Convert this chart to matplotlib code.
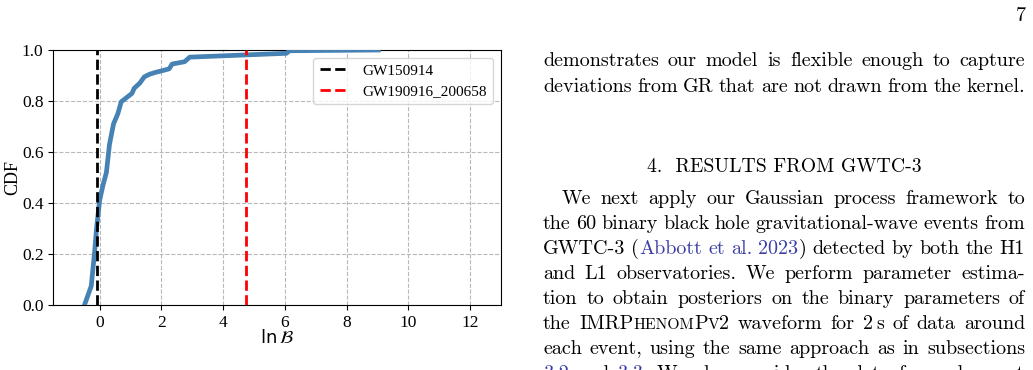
import matplotlib
matplotlib.use("Agg")
import matplotlib.pyplot as plt

plt.rcParams['font.family'] = 'Liberation Serif'
plt.rcParams['mathtext.fontset'] = 'dejavusans'

# CDF of ln B over the GWTC-3 events
lnb = [-0.49, -0.27, -0.16, -0.10, 0.0, 0.11, 0.22, 0.32, 0.45, 0.59, 0.70,
       1.05, 1.12, 1.30, 1.45, 1.62, 1.80, 2.0, 2.25, 2.35, 2.75, 2.92,
       6.05, 6.15, 9.03]
cdf = [0.0, 0.075, 0.21, 0.30, 0.41, 0.47, 0.52, 0.63, 0.71, 0.75, 0.797,
       0.83, 0.85, 0.87, 0.895, 0.905, 0.912, 0.918, 0.926, 0.945, 0.954,
       0.972, 0.987, 0.997, 1.0]
events = ["GW150914", "GW190916_200658"]
event_lnb = [-0.10, 4.74]
event_colors = ["black", "red"]

xticks = [0, 2, 4, 6, 8, 10, 12]
yticks = [0.0, 0.2, 0.4, 0.6, 0.8, 1.0]

W, H = 1033, 370
fig = plt.figure(figsize=(W / 100, H / 100), dpi=100)
ax = fig.add_axes([53.3 / W, 1 - 305 / H, (501 - 53.3) / W, (305 - 50) / H])

ax.plot(lnb, cdf, color='#4682b4', lw=3.4, zorder=3)
for name, xv, c in zip(events, event_lnb, event_colors):
    ax.axvline(xv, color=c, ls='--', lw=2, label=name, zorder=4)

ax.set_xlim(-1.5, 13)
ax.set_ylim(0, 1)
ax.set_xticks(xticks)
ax.set_yticks(yticks)
ax.set_xticklabels([str(t) for t in xticks])
ax.set_yticklabels([f"{t:.1f}" for t in yticks])
ax.tick_params(labelsize=12.5, labelfontfamily='Liberation Serif')
ax.grid(True, ls='--', color='#b8b8b8', lw=0.8)
ax.set_axisbelow(True)
ax.set_ylabel("CDF", fontsize=13)
ax.yaxis.set_label_coords(-0.072, 0.5)
ax.set_xlabel(r"$\ln\mathcal{B}$", fontsize=13, labelpad=-1)
ax.legend(loc='upper right', prop={'size': 11}, handlelength=1.8,
          borderpad=0.42, labelspacing=0.42, handletextpad=1.0)

# --- right hand column of the page ---
FS = 14.5
SC = 11.3
BLUE = '#3c3fa6'
L, R = 543, 1025
renderer = fig.canvas.get_renderer()


def seg_text(s, size=FS, color='black'):
    t = fig.text(0, 0, s, family='cmr10', fontsize=size, color=color, va='baseline')
    return t, t.get_window_extent(renderer).width


def line(words, base, left=L, right=R, justify=True):
    items = []
    for w in words:
        if isinstance(w, str):
            w = [(w, FS, 'black')]
        parts = [(None, p) if isinstance(p, (int, float)) else seg_text(*p) for p in w]
        items.append((parts, sum(p[1] for p in parts)))
    total = sum(i[1] for i in items)
    if justify and len(items) > 1:
        gap = (right - left - total) / (len(items) - 1)
    else:
        gap = 4.5
    x = left
    for parts, wd in items:
        xx = x
        for t, pw in parts:
            if t is not None:
                t.set_position((xx / W, 1 - base / H))
            xx += pw
        x += wd + gap


fig.text(1026 / W, 1 - 21 / H, "7", family='cmr10', fontsize=FS, ha='right', va='baseline')
line("demonstrates our model is flexible enough to capture".split(), 66.5)
line("deviations from GR that are not drawn from the kernel.".split(), 91.5)
fig.text(784 / W, 1 - 172.5 / H, "4.  RESULTS FROM GWTC-3", family='cmr10',
         fontsize=14.2, ha='center', va='baseline')

line("We next apply our Gaussian process framework to".split(), 204, left=561.5)
line("the 60 binary black hole gravitational-wave events from".split(), 229)
line(["GWTC-3", [("(", FS, 'black'), ("Abbott", FS, BLUE)], [("et", FS, BLUE)],
      [("al.", FS, BLUE)], [("2023", FS, BLUE), (")", FS, 'black')],
      "detected", "by", "both", "the", "H1"], 254)
line("and L1 observatories.  We perform parameter estima-".split(), 279)
line("tion to obtain posteriors on the binary parameters of".split(), 304)
line(["the", [("IMRP", FS, 'black'), ("HENOM", SC, 'black'), ("P", FS, 'black'),
              ("V", SC, 'black'), ("2", FS, 'black')],
      "waveform", "for", [("2", FS, 'black'), 3, ("s", FS, 'black')],
      "of", "data", "around"], 329)
line("each event, using the same approach as in subsections".split(), 354)
line([[("3.2", FS, BLUE)], "and", [("3.3", FS, BLUE), (".", FS, 'black')],
      "We", "also", "consider", "the", "data", "for", "each", "event"], 379)

fig.savefig("out.png", dpi=100)
